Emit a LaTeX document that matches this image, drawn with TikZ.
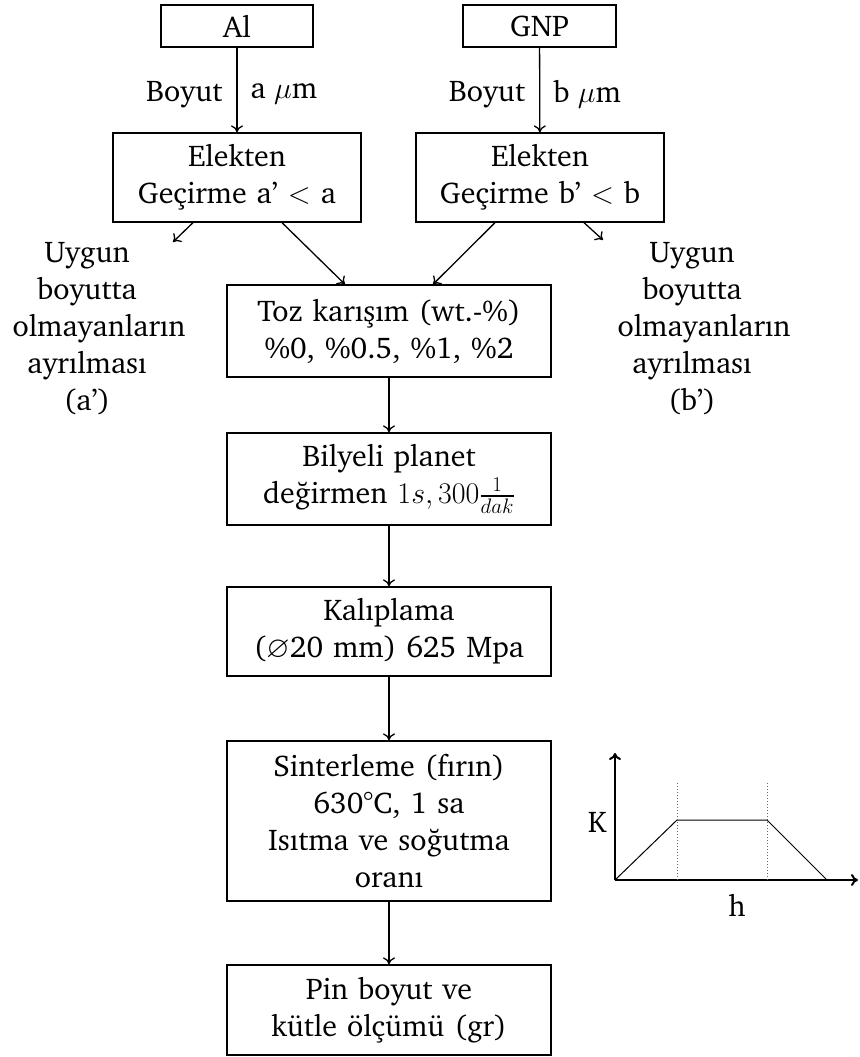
\RequirePackage{fix-cm}
\documentclass[tikz,border=0pt]{standalone}
\usepackage[T1]{fontenc}
\usepackage{charter}
\usepackage{amssymb}
\usetikzlibrary{arrows.meta}
\tikzset{
  >={To[length=7pt,width=12pt]},
  every node/.style={font=\fontsize{30}{37}\selectfont},
  box/.style={draw, line width=1.3pt, align=center, inner sep=0pt, text width=#1},
  box/.default=300pt,
  conn/.style={->, line width=1.3pt},
  side/.style={align=center, inner sep=0pt},
  lab/.style={inner sep=0pt},
}
\begin{document}
\begin{tikzpicture}[x=1pt,y=-1pt]
\useasboundingbox (0,0) rectangle (859,1057);

\node[box=140pt, minimum width=152pt, minimum height=42pt] (al) at (237,26) {Al};
\node[box=140pt, minimum width=153pt, minimum height=42pt] (gnp) at (539.5,26) {GNP};
\node[box=240pt, minimum width=248pt, minimum height=89pt] (ela) at (237,177.5) {Elekten\\Ge\c{c}irme a' $<$ a};
\node[box=240pt, minimum width=248pt, minimum height=89pt] (elb) at (540,177.5) {Elekten\\Ge\c{c}irme b' $<$ b};
\node[box, minimum width=324pt, minimum height=92pt] (toz) at (389,331) {Toz kar\i\c{s}\i m (wt.-\%)\\\%0, \%0.5, \%1, \%2};
\node[box, minimum width=324pt, minimum height=92pt] (bil) at (389,479) {Bilyeli planet\\de\u{g}irmen $1s, 300\frac{1}{dak}$};
\node[box, minimum width=324pt, minimum height=89pt] (kal) at (389,631.5) {Kal\i plama\\($\varnothing$20 mm) 625 Mpa};
\node[box, minimum width=324pt, minimum height=160pt] (sin) at (389,821) {Sinterleme (f\i r\i n)\\630\textdegree C, 1 sa\\Is\i tma ve so\u{g}utma\\oran\i};
\node[box, minimum width=324pt, minimum height=90pt] (pin) at (389,1010) {Pin boyut ve\\k\"utle \"ol\c{c}\"um\"u (gr)};

\node[side] (la) at (87,328) {Uygun\\boyutta\\\hspace*{24pt}olmayanlar\i n\\ayr\i lmas\i\\(a')};
\node[side] (lb) at (692,328) {Uygun\\boyutta\\\hspace*{24pt}olmayanlar\i n\\ayr\i lmas\i\\(b')};

\draw[conn] (al) -- node[pos=0.55, left=14pt, lab] (boa) {Boyut} node[pos=0.55, right=13pt, lab] (sza) {a $\mu$m} (ela);
\draw[conn] (gnp) -- node[pos=0.55, left=14pt, lab] (bob) {Boyut} node[pos=0.55, right=13pt, lab] (szb) {b $\mu$m} (elb);

\coordinate (ra) at (173,242);
\coordinate (rb) at (603,240);
\draw[conn] ([xshift=-44pt]ela.south) -- (ra);
\draw[conn] ([xshift=44pt]elb.south) -- (rb);
\draw[conn] ([xshift=45pt]ela.south) -- ([xshift=-44pt]toz.north);
\draw[conn] ([xshift=-45pt]elb.south) -- ([xshift=44pt]toz.north);
\draw[conn] (toz) -- (bil);
\draw[conn] (bil) -- (kal);
\draw[conn] (kal) -- (sin);
\draw[conn] (sin) -- (pin);

% temperature profile
\coordinate (o) at (615,880);
\coordinate (yt) at (615,753);
\coordinate (xe) at (858,880);
\coordinate (p1) at (677,820);
\coordinate (p2) at (767,820);
\coordinate (p3) at (827,880);
\draw[->, line width=2pt] (o) -- (yt);
\draw[->, line width=2pt] (o) -- (xe);
\draw[line width=1pt] (o) -- (p1) -- (p2) -- (p3);
\draw[dotted, line width=1pt, gray!80!black] (677,783) -- (677,880);
\draw[dotted, line width=1pt, gray!80!black] (767,783) -- (767,880);
\node (k) at (597,822) {K};
\node (h) at (737,905) {h};
\end{tikzpicture}
\end{document}
